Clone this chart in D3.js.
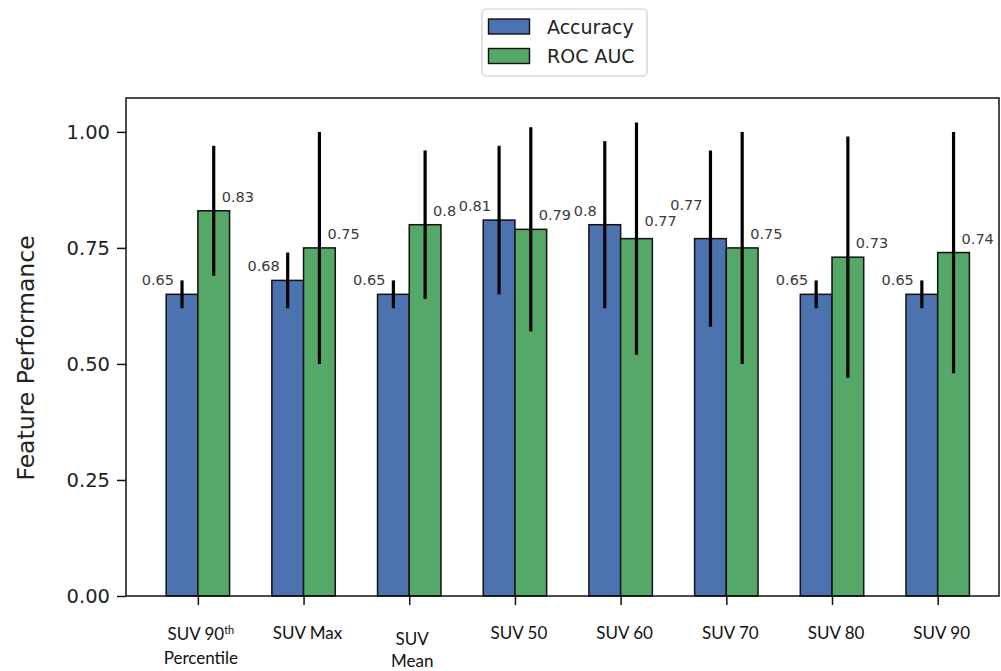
<!DOCTYPE html>
<html><head><meta charset="utf-8">
<script src="https://cdn.jsdelivr.net/npm/d3@7"></script>
<style>body{margin:0;background:#fff}svg{display:block}</style>
</head><body><svg id="c" width="1001" height="671"></svg>
<script>
// ---- data ----
const categories = ["SUV 90th Percentile","SUV Max","SUV Mean","SUV 50","SUV 60","SUV 70","SUV 80","SUV 90"];
const accuracy    = [0.65, 0.68, 0.65, 0.81, 0.80, 0.77, 0.65, 0.65];
const accuracyErr = [0.03, 0.06, 0.03, 0.16, 0.18, 0.19, 0.03, 0.03];
const rocAuc      = [0.83, 0.75, 0.80, 0.79, 0.77, 0.75, 0.73, 0.74];
const rocAucErr   = [0.14, 0.25, 0.16, 0.22, 0.25, 0.25, 0.26, 0.26];
const accuracyLabels = ["0.65","0.68","0.65","0.81","0.8","0.77","0.65","0.65"];
const rocAucLabels   = ["0.83","0.75","0.8","0.79","0.77","0.75","0.73","0.74"];
const yTicks = [0, 0.25, 0.5, 0.75, 1.0];
const yTickLabels = ["0.00","0.25","0.50","0.75","1.00"];
const seriesNames = ["Accuracy","ROC AUC"];
const seriesColors = ["#4c72b0","#55a868"];

// ---- layout ----
const svg = d3.select("#c");
const L = 126, T = 98, R = 999, B = 596;
const barW = 0.3;
const x = d3.scaleLinear().domain([-0.68, 7.58]).range([L, R]);
const y = d3.scaleLinear().domain([0, 1.073]).range([B, T]);
const idx = d3.range(categories.length);
const font = "'DejaVu Sans', sans-serif";

// bars
const series = [
  {vals: accuracy, err: accuracyErr, labels: accuracyLabels, off: -barW, color: seriesColors[0]},
  {vals: rocAuc, err: rocAucErr, labels: rocAucLabels, off: 0, color: seriesColors[1]}
];
series.forEach(s => {
  svg.append("g").selectAll("rect").data(idx).join("rect")
    .attr("x", i => x(i + s.off))
    .attr("y", i => y(s.vals[i]))
    .attr("width", i => x(i + s.off + barW) - x(i + s.off))
    .attr("height", i => y(0) - y(s.vals[i]))
    .attr("fill", s.color)
    .attr("stroke", "#111").attr("stroke-width", 1.5);
});
// error bars
series.forEach(s => {
  svg.append("g").selectAll("line").data(idx).join("line")
    .attr("x1", i => x(i + s.off + barW / 2)).attr("x2", i => x(i + s.off + barW / 2))
    .attr("y1", i => y(s.vals[i] - s.err[i])).attr("y2", i => y(s.vals[i] + s.err[i]))
    .attr("stroke", "#000").attr("stroke-width", 3.2);
});
// value labels (small manual lifts as in original)
const lift = {acc: {5: 20}, roc: {4: 4}};
svg.append("g").selectAll("text").data(idx).join("text")
  .attr("x", i => x(i - barW / 2) - 8)
  .attr("y", i => y(accuracy[i]) - 9 - (lift.acc[i] || 0))
  .attr("text-anchor", "end")
  .attr("font-family", font).attr("font-size", 14.5).attr("fill", "#3a3a3a")
  .text(i => accuracyLabels[i]);
svg.append("g").selectAll("text").data(idx).join("text")
  .attr("x", i => x(i + barW / 2) + 8)
  .attr("y", i => y(rocAuc[i]) - 9 - (lift.roc[i] || 0))
  .attr("text-anchor", "start")
  .attr("font-family", font).attr("font-size", 14.5).attr("fill", "#3a3a3a")
  .text(i => rocAucLabels[i]);

// frame
svg.append("rect").attr("x", L).attr("y", T).attr("width", R - L).attr("height", B - T)
  .attr("fill", "none").attr("stroke", "#111").attr("stroke-width", 1.5);

// y axis
const yAxis = d3.axisLeft(y).tickValues(yTicks).tickSize(9).tickPadding(7)
  .tickFormat((d, k) => yTickLabels[k]);
const gy = svg.append("g").attr("transform", `translate(${L},0)`).call(yAxis);
gy.select(".domain").remove();
gy.selectAll(".tick line").attr("stroke", "#111").attr("stroke-width", 1.5);
gy.selectAll(".tick text").attr("font-family", font).attr("font-size", 19.5).attr("fill", "#222");

// x axis ticks
const xAxis = d3.axisBottom(x).tickValues(idx).tickSize(9).tickFormat("");
const gx = svg.append("g").attr("transform", `translate(0,${B})`).call(xAxis);
gx.select(".domain").remove();
gx.selectAll(".tick line").attr("stroke", "#111").attr("stroke-width", 1.5);

// x category labels
const xf = "Lato, 'Open Sans', sans-serif";
const xl = svg.append("g").attr("font-family", xf).attr("font-size", 17).attr("fill", "#111").attr("text-anchor", "middle");
idx.forEach(i => {
  const cx = x(i) + 3;
  if (i === 0) {
    const t = xl.append("text").attr("x", cx).attr("y", 640);
    t.append("tspan").text("SUV 90");
    t.append("tspan").attr("font-size", 11).attr("dy", -6).text("th");
    xl.append("text").attr("x", cx).attr("y", 664).text("Percentile");
  } else if (i === 2) {
    xl.append("text").attr("x", cx).attr("y", 645).text("SUV");
    xl.append("text").attr("x", cx).attr("y", 667).text("Mean");
  } else {
    xl.append("text").attr("x", cx + 1).attr("y", 639).text(categories[i]);
  }
});

// y label
svg.append("text").attr("transform", `translate(34,${(T + B) / 2 + 11}) rotate(-90)`)
  .attr("text-anchor", "middle").attr("font-family", font).attr("font-size", 23.5).attr("fill", "#222")
  .text("Feature Performance");

// legend
const lg = svg.append("g");
lg.append("rect").attr("x", 482).attr("y", 9).attr("width", 165).attr("height", 67).attr("rx", 4)
  .attr("fill", "#fff").attr("stroke", "#ccc").attr("stroke-width", 1.2);
seriesNames.forEach((n, k) => {
  const cy = 26.5 + k * 29.5;
  lg.append("rect").attr("x", 488.5).attr("y", cy - 7.5).attr("width", 41).attr("height", 15)
    .attr("fill", seriesColors[k]).attr("stroke", "#111").attr("stroke-width", 1.4);
  lg.append("text").attr("x", 547).attr("y", cy + 7).attr("font-family", font).attr("font-size", 19)
    .attr("fill", "#222").text(n);
});
</script>
</body></html>
